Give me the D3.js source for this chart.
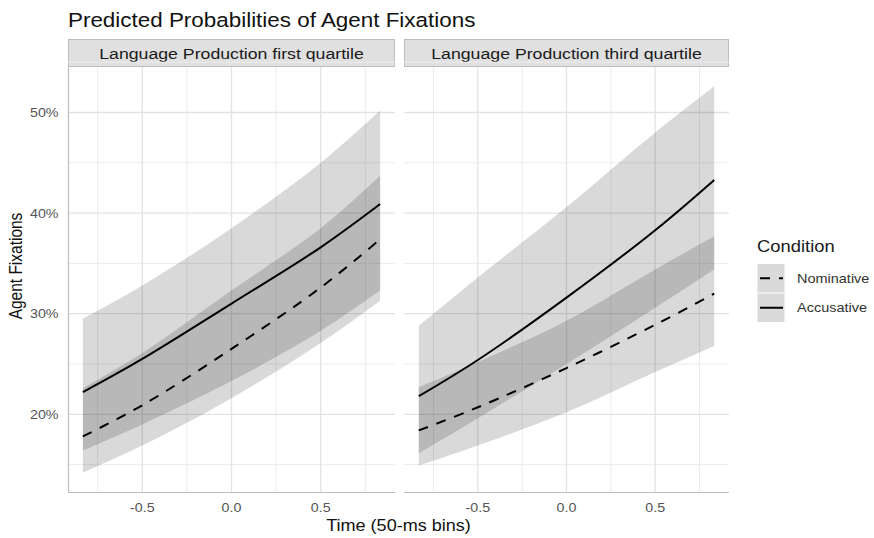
<!DOCTYPE html>
<html lang="en">
<head>
<meta charset="utf-8">
<title>Predicted Probabilities of Agent Fixations</title>
<script src="https://d3js.org/d3.v7.min.js"></script>
<style>
  body { margin: 0; background: #fff; }
  text { font-family: "Liberation Sans", Arial, Helvetica, sans-serif; }
</style>
</head>
<body>
<div id="chart"></div>
<script>
// values (percent)
var timeBins = [-0.833, -0.5, 0, 0.5, 0.833];
var panelNames = ["Language Production first quartile", "Language Production third quartile"];
var conditions = ["Nominative", "Accusative"];
var yTicks = [20, 30, 40, 50];
var xTicks = [-0.5, 0, 0.5];

// first quartile
var q1AccFit  = [22.2, 25.5, 31.0, 36.6, 40.9];
var q1AccLow  = [16.4, 19.0, 23.3, 28.3, 32.3];
var q1AccHigh = [29.5, 32.8, 38.5, 45.0, 50.2];
var q1NomFit  = [17.8, 20.9, 26.5, 32.6, 37.4];
var q1NomLow  = [14.2, 16.9, 21.6, 27.1, 31.3];
var q1NomHigh = [22.6, 26.1, 32.3, 38.5, 43.7];

// third quartile
var q3AccFit  = [21.8, 25.4, 31.6, 38.3, 43.3];
var q3AccLow  = [16.1, 19.6, 25.0, 30.6, 34.4];
var q3AccHigh = [28.8, 33.6, 40.6, 48.0, 52.6];
var q3NomFit  = [18.4, 20.7, 24.6, 28.9, 32.0];
var q3NomLow  = [14.9, 16.9, 20.2, 24.2, 26.8];
var q3NomHigh = [22.7, 25.2, 29.3, 34.4, 37.7];

var W = 874, H = 538,
    sx = 1.15,            // text in the reference is a bit wider than tall
    plotTop = 67, plotBottom = 492,
    panelX = [[68, 395], [404, 729]];

var panels = [
  {name: panelNames[0], series: [
    {cond: "Nominative", fit: q1NomFit, low: q1NomLow, high: q1NomHigh},
    {cond: "Accusative", fit: q1AccFit, low: q1AccLow, high: q1AccHigh}]},
  {name: panelNames[1], series: [
    {cond: "Nominative", fit: q3NomFit, low: q3NomLow, high: q3NomHigh},
    {cond: "Accusative", fit: q3AccFit, low: q3AccLow, high: q3AccHigh}]}
];

var allVals = [].concat(q1AccLow, q1AccHigh, q1NomLow, q1NomHigh, q3AccLow, q3AccHigh, q3NomLow, q3NomHigh);
var yMin = d3.min(allVals), yMax = d3.max(allVals), yPad = (yMax - yMin) * 0.05;
var xMin = d3.min(timeBins), xMax = d3.max(timeBins), xPad = (xMax - xMin) * 0.05;

var y = d3.scaleLinear().domain([yMin - yPad, yMax + yPad]).range([plotBottom, plotTop]);

var dashes = {Nominative: "10,9", Accusative: null};

var svg = d3.select("#chart").append("svg")
    .attr("width", W).attr("height", H);

function stretchText(g, x, yy, str) {
  return g.append("text")
    .attr("transform", "translate(" + x + "," + yy + ") scale(" + sx + ",1)")
    .text(str);
}

// title
stretchText(svg, 68, 27, "Predicted Probabilities of Agent Fixations")
    .style("font-size", "19.5px").attr("fill", "#111");

panels.forEach(function(p, i) {
  var x = d3.scaleLinear().domain([xMin - xPad, xMax + xPad]).range(panelX[i]);
  var g = svg.append("g");
  var x0 = panelX[i][0], x1 = panelX[i][1];

  // strip
  g.append("rect").attr("x", x0 + 0.5).attr("y", 39.5)
      .attr("width", x1 - x0 - 1).attr("height", 27)
      .attr("fill", "#e0e0e0").attr("stroke", "#bdbdbd");
  stretchText(g, (x0 + x1) / 2, 58.5, p.name)
      .attr("text-anchor", "middle").style("font-size", "15.4px").attr("fill", "#1a1a1a");

  // minor grid
  var yMinor = yTicks.map(function(t) { return t - 5; }).concat([yTicks[yTicks.length - 1] + 5]);
  var xMinor = [-0.75, -0.25, 0.25, 0.75];
  g.append("g").selectAll("line").data(yMinor).join("line")
      .attr("x1", x0).attr("x2", x1)
      .attr("y1", function(d) { return y(d); }).attr("y2", function(d) { return y(d); })
      .attr("stroke", "#ececec").attr("stroke-width", 1);
  g.append("g").selectAll("line").data(xMinor).join("line")
      .attr("y1", plotTop).attr("y2", plotBottom)
      .attr("x1", function(d) { return x(d); }).attr("x2", function(d) { return x(d); })
      .attr("stroke", "#ececec").attr("stroke-width", 1);
  // major grid
  g.append("g").selectAll("line").data(yTicks).join("line")
      .attr("x1", x0).attr("x2", x1)
      .attr("y1", function(d) { return y(d); }).attr("y2", function(d) { return y(d); })
      .attr("stroke", "#e3e3e3").attr("stroke-width", 1.3);
  g.append("g").selectAll("line").data(xTicks).join("line")
      .attr("y1", plotTop).attr("y2", plotBottom)
      .attr("x1", function(d) { return x(d); }).attr("x2", function(d) { return x(d); })
      .attr("stroke", "#e3e3e3").attr("stroke-width", 1.3);

  // ribbons
  var area = d3.area()
      .x(function(d) { return x(d.t); })
      .y0(function(d) { return y(d.lo); })
      .y1(function(d) { return y(d.hi); })
      .curve(d3.curveCatmullRom);
  p.series.forEach(function(s) {
    var rows = timeBins.map(function(t, k) { return {t: t, lo: s.low[k], hi: s.high[k]}; });
    g.append("path").datum(rows).attr("d", area)
        .attr("fill", "#000").attr("fill-opacity", 0.15);
  });

  // lines
  var line = d3.line()
      .x(function(d) { return x(d.t); })
      .y(function(d) { return y(d.v); })
      .curve(d3.curveCatmullRom);
  p.series.forEach(function(s) {
    var rows = timeBins.map(function(t, k) { return {t: t, v: s.fit[k]}; });
    g.append("path").datum(rows).attr("d", line)
        .attr("fill", "none").attr("stroke", "#000").attr("stroke-width", 2)
        .attr("stroke-dasharray", dashes[s.cond]);
  });

  // axis lines
  g.append("line").attr("x1", x0).attr("x2", x1).attr("y1", plotBottom + 0.5).attr("y2", plotBottom + 0.5)
      .attr("stroke", "#bdbdbd").attr("stroke-width", 1.2);
  if (i === 0) {
    g.append("line").attr("x1", x0 + 0.5).attr("x2", x0 + 0.5).attr("y1", plotTop).attr("y2", plotBottom)
        .attr("stroke", "#bdbdbd").attr("stroke-width", 1.2);
    yTicks.forEach(function(t) {
      stretchText(g, 58.5, y(t) + 4.5, t + "%")
          .attr("text-anchor", "end").style("font-size", "12.4px").attr("fill", "#555");
    });
  }

  xTicks.forEach(function(t) {
    stretchText(g, x(t), 511.5, d3.format(".1f")(t).replace("−", "-"))
        .attr("text-anchor", "middle").style("font-size", "12.4px").attr("fill", "#555");
  });
});

// axis titles
stretchText(svg, (68 + 729) / 2, 531, "Time (50-ms bins)")
    .attr("text-anchor", "middle").style("font-size", "15.7px").attr("fill", "#111");
svg.append("text")
    .attr("transform", "translate(22," + ((40 + 492) / 2) + ") scale(" + sx + ",1) rotate(-90)")
    .attr("text-anchor", "middle").style("font-size", "15.5px").attr("fill", "#111")
    .text("Agent Fixations");

// legend
var leg = svg.append("g");
stretchText(leg, 757, 252, "Condition").style("font-size", "16px").attr("fill", "#1a1a1a");
conditions.forEach(function(c, k) {
  var ky = 264 + k * 29.5;
  leg.append("rect").attr("x", 757.5).attr("y", ky).attr("width", 27).attr("height", 28.5)
      .attr("fill", "#dadada");
  leg.append("line").attr("x1", 760).attr("x2", 783)
      .attr("y1", ky + 14.25).attr("y2", ky + 14.25)
      .attr("stroke", "#000").attr("stroke-width", 2)
      .attr("stroke-dasharray", dashes[c]);
  stretchText(leg, 797, ky + 18.5, c).style("font-size", "12.6px").attr("fill", "#333");
});
</script>
</body>
</html>
